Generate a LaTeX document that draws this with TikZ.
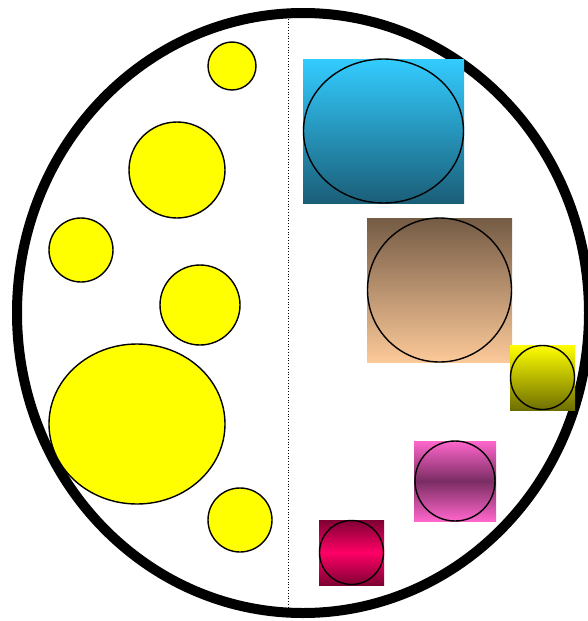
\documentclass[tikz,border=0pt]{standalone}
\usepackage{tikz}
\usetikzlibrary{shapes.geometric}
\definecolor{BallYellow}{HTML}{FFFF00}
\definecolor{SkyTop}{HTML}{33CCFF}
\definecolor{SkyBottom}{HTML}{1A5E78}
\definecolor{SandTop}{HTML}{745B45}
\definecolor{SandBottom}{HTML}{FCC999}
\definecolor{OliveBottom}{HTML}{6E6E00}
\definecolor{PinkOuter}{HTML}{FF66CC}
\definecolor{PinkMid}{HTML}{7A2D63}
\definecolor{RoseOuter}{HTML}{7F0033}
\definecolor{RoseMid}{HTML}{FF0066}

\begin{document}
\begin{tikzpicture}[
  x=1pt,y=-1pt,
  rim/.style={draw=black,line width=10pt},
  divider/.style={draw=black,dotted,line width=0.8pt},
  ball/.style={ellipse,draw=black,fill=BallYellow,line width=1.4pt,inner sep=0pt},
  box/.style={rectangle,draw=none,inner sep=0pt},
  ring/.style={ellipse,draw=black,line width=1.4pt,inner sep=0pt}
]
\useasboundingbox (0,0) rectangle (588,621);

% Outer ring and divider.
\node[ellipse,rim,minimum width=572,minimum height=600] (rim) at (303,313) {};
\coordinate (dtop) at (288,16);
\coordinate (dbot) at (288,608);
\draw[divider] (dtop) -- (dbot);

% Left side.
\node[ball,minimum width=48,minimum height=48] (l1) at (232,66) {};
\node[ball,minimum width=96,minimum height=96] (l2) at (177,170) {};
\node[ball,minimum width=64,minimum height=64] (l3) at (81,250) {};
\node[ball,minimum width=80,minimum height=80] (l4) at (200,305) {};
\node[ball,minimum width=176,minimum height=160] (l5) at (137,424) {};
\node[ball,minimum width=64,minimum height=64] (l6) at (240,520) {};

% Right side.
\node[box,top color=SkyTop,bottom color=SkyBottom,minimum width=161,minimum height=144] (r1) at (383.5,131) {};
\node[ring,minimum width=160,minimum height=144] (c1) at (r1) {};

\node[box,top color=SandTop,bottom color=SandBottom,minimum width=145,minimum height=144] (r2) at (439.5,290) {};
\node[ring,minimum width=144,minimum height=144] (c2) at (r2) {};

\node[box,top color=BallYellow,bottom color=OliveBottom,minimum width=65,minimum height=65] (r3) at (542.5,377.5) {};
\node[ring,minimum width=64,minimum height=64] (c3) at (r3) {};

\node[box,top color=PinkOuter,bottom color=PinkOuter,middle color=PinkMid,minimum width=82,minimum height=80] (r4) at (455,481) {};
\node[ring,minimum width=80,minimum height=80] (c4) at (r4) {};

\node[box,top color=RoseOuter,bottom color=RoseOuter,middle color=RoseMid,minimum width=65,minimum height=65] (r5) at (351.5,552.5) {};
\node[ring,minimum width=64,minimum height=64] (c5) at (r5) {};
\end{tikzpicture}
\end{document}
